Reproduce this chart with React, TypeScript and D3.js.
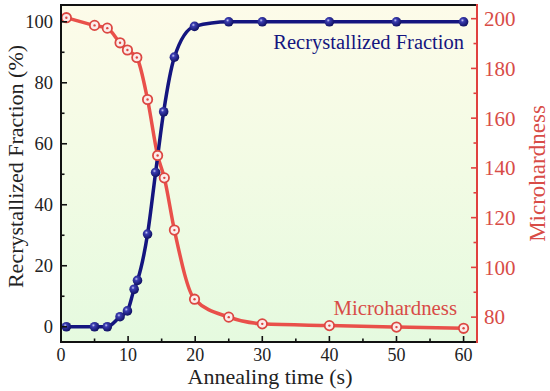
import * as d3 from 'd3'

// values
const timeRF = [0.8, 5, 6.9, 8.8, 9.9, 10.9, 11.4, 12.9, 14.1, 15.3, 16.9, 19.9, 25, 30, 40, 50, 60]
const fraction = [0, 0, 0, 3.3, 5.2, 12.3, 15.2, 30.4, 50.6, 70.5, 88.4, 98.5, 100, 100, 100, 100, 100]

const timeMH = [0.8, 5, 6.9, 8.8, 9.9, 11.3, 12.9, 14.4, 15.4, 16.9, 19.9, 25, 30, 40, 50, 60]
const hardness = [200.4, 197.3, 196.2, 190.3, 187.4, 184.4, 167.5, 145, 136, 115, 87.2, 80, 77.3, 76.6, 76, 75.5]

const xMajor = [0, 10, 20, 30, 40, 50, 60]
const xMinor = [5, 15, 25, 35, 45, 55]
const leftMajor = [0, 20, 40, 60, 80, 100]
const leftMinor = [10, 30, 50, 70, 90]
const rightMajor = [80, 100, 120, 140, 160, 180, 200]
const rightMinor = [90, 110, 130, 150, 170, 190]

const W = 550
const H = 391
const PLOT = { left: 61, right: 477, top: 5, bottom: 342 }

const NAVY = '#14157f'
const RED = '#e9504a'
const RED_TEXT = '#d84c47'
const FONT = '"Liberation Serif", "Times New Roman", serif'

export default function App() {
  const x = d3.scaleLinear().domain([0, 62]).range([PLOT.left, PLOT.right])
  const yL = d3.scaleLinear().domain([-5, 105.5]).range([PLOT.bottom, PLOT.top])
  const yR = d3.scaleLinear().domain([70, 205.5]).range([PLOT.bottom, PLOT.top])

  const rf = timeRF.map((t, i) => [t, fraction[i]] as [number, number])
  const mh = timeMH.map((t, i) => [t, hardness[i]] as [number, number])

  const lineL = d3.line<[number, number]>().x((d) => x(d[0])).y((d) => yL(d[1])).curve(d3.curveMonotoneX)
  const lineR = d3.line<[number, number]>().x((d) => x(d[0])).y((d) => yR(d[1])).curve(d3.curveMonotoneX)

  const midY = (PLOT.top + PLOT.bottom) / 2

  return (
    <>
      <style>{`body{margin:0}`}</style>
      <svg width={W} height={H} style={{ display: 'block', background: '#fff' }}>
        <defs>
          <linearGradient id="bg" x1="0" y1="0" x2="0" y2="1">
            <stop offset="0%" stopColor="#fdfbe9" />
            <stop offset="50%" stopColor="#f2fbe4" />
            <stop offset="100%" stopColor="#e5fadf" />
          </linearGradient>
          <radialGradient id="ball" cx="0.38" cy="0.35" r="0.7">
            <stop offset="0%" stopColor="#c9ccf5" />
            <stop offset="25%" stopColor="#3a3cb0" />
            <stop offset="100%" stopColor="#0b0c5c" />
          </radialGradient>
        </defs>

        <rect
          x={PLOT.left}
          y={PLOT.top}
          width={PLOT.right - PLOT.left}
          height={PLOT.bottom - PLOT.top}
          fill="url(#bg)"
        />

        {/* curves */}
        <path d={lineR(mh) ?? ''} fill="none" stroke={RED} strokeWidth={3.5} />
        <path d={lineL(rf) ?? ''} fill="none" stroke={NAVY} strokeWidth={3.5} />

        {/* microhardness markers */}
        {mh.map((d, i) => (
          <g key={'m' + i}>
            <circle cx={x(d[0])} cy={yR(d[1])} r={4.7} fill="#fbecea" stroke="#dc4742" strokeWidth={1.8} />
            <circle cx={x(d[0])} cy={yR(d[1])} r={1.2} fill="#dc4742" />
          </g>
        ))}

        {/* fraction markers */}
        {rf.map((d, i) => (
          <circle key={'f' + i} cx={x(d[0])} cy={yL(d[1])} r={4.8} fill="url(#ball)" />
        ))}

        {/* frame */}
        <line x1={PLOT.left} x2={PLOT.right} y1={PLOT.top} y2={PLOT.top} stroke="#111" strokeWidth={2} />
        <line x1={PLOT.left} x2={PLOT.left} y1={PLOT.top - 1} y2={PLOT.bottom + 1} stroke="#111" strokeWidth={2} />
        <line x1={PLOT.left} x2={PLOT.right} y1={PLOT.bottom} y2={PLOT.bottom} stroke="#111" strokeWidth={2} />
        <line x1={PLOT.right} x2={PLOT.right} y1={PLOT.top - 1} y2={PLOT.bottom + 1} stroke="#e0413e" strokeWidth={2} />

        {/* bottom axis */}
        {xMajor.map((v) => (
          <g key={'xm' + v}>
            <line x1={x(v)} x2={x(v)} y1={PLOT.bottom} y2={PLOT.bottom - 6} stroke="#111" strokeWidth={1.6} />
            <text x={x(v)} y={361} textAnchor="middle" fontSize={18} fontFamily={FONT} fill="#222">
              {v}
            </text>
          </g>
        ))}
        {xMinor.map((v) => (
          <line key={'xn' + v} x1={x(v)} x2={x(v)} y1={PLOT.bottom} y2={PLOT.bottom - 3.5} stroke="#111" strokeWidth={1.6} />
        ))}

        {/* left axis */}
        {leftMajor.map((v) => (
          <g key={'lm' + v}>
            <line x1={PLOT.left} x2={PLOT.left + 6} y1={yL(v)} y2={yL(v)} stroke="#111" strokeWidth={1.6} />
            <text x={53} y={yL(v)} dy="0.35em" textAnchor="end" fontSize={18.5} fontFamily={FONT} fill="#222">
              {v}
            </text>
          </g>
        ))}
        {leftMinor.map((v) => (
          <line key={'ln' + v} x1={PLOT.left} x2={PLOT.left + 3.5} y1={yL(v)} y2={yL(v)} stroke="#111" strokeWidth={1.6} />
        ))}

        {/* right axis */}
        {rightMajor.map((v) => (
          <g key={'rm' + v}>
            <line x1={PLOT.right} x2={PLOT.right - 6} y1={yR(v)} y2={yR(v)} stroke="#e0413e" strokeWidth={1.6} />
            <text x={484} y={yR(v)} dy="0.35em" fontSize={21} fontFamily={FONT} fill={RED_TEXT}>
              {v}
            </text>
          </g>
        ))}
        {rightMinor.map((v) => (
          <line key={'rn' + v} x1={PLOT.right} x2={PLOT.right - 3.5} y1={yR(v)} y2={yR(v)} stroke="#e0413e" strokeWidth={1.6} />
        ))}

        {/* axis titles */}
        <text x={270} y={384} textAnchor="middle" fontSize={22} fontFamily={FONT} fill="#222">
          Annealing time (s)
        </text>
        <text
          transform={`translate(23,${midY - 7}) rotate(-90)`}
          textAnchor="middle"
          fontSize={22}
          fontFamily={FONT}
          fill="#222"
        >
          Recrystallized Fraction (%)
        </text>
        <text
          transform={`translate(545,${midY}) rotate(-90)`}
          textAnchor="middle"
          fontSize={23}
          fontFamily={FONT}
          fill={RED_TEXT}
        >
          Microhardness
        </text>

        {/* in-plot labels */}
        <text x={464} y={49} textAnchor="end" fontSize={20.5} fontFamily={FONT} fill={NAVY}>
          Recrystallized Fraction
        </text>
        <text x={457} y={315} textAnchor="end" fontSize={20.8} fontFamily={FONT} fill={RED_TEXT}>
          Microhardness
        </text>
      </svg>
    </>
  )
}
